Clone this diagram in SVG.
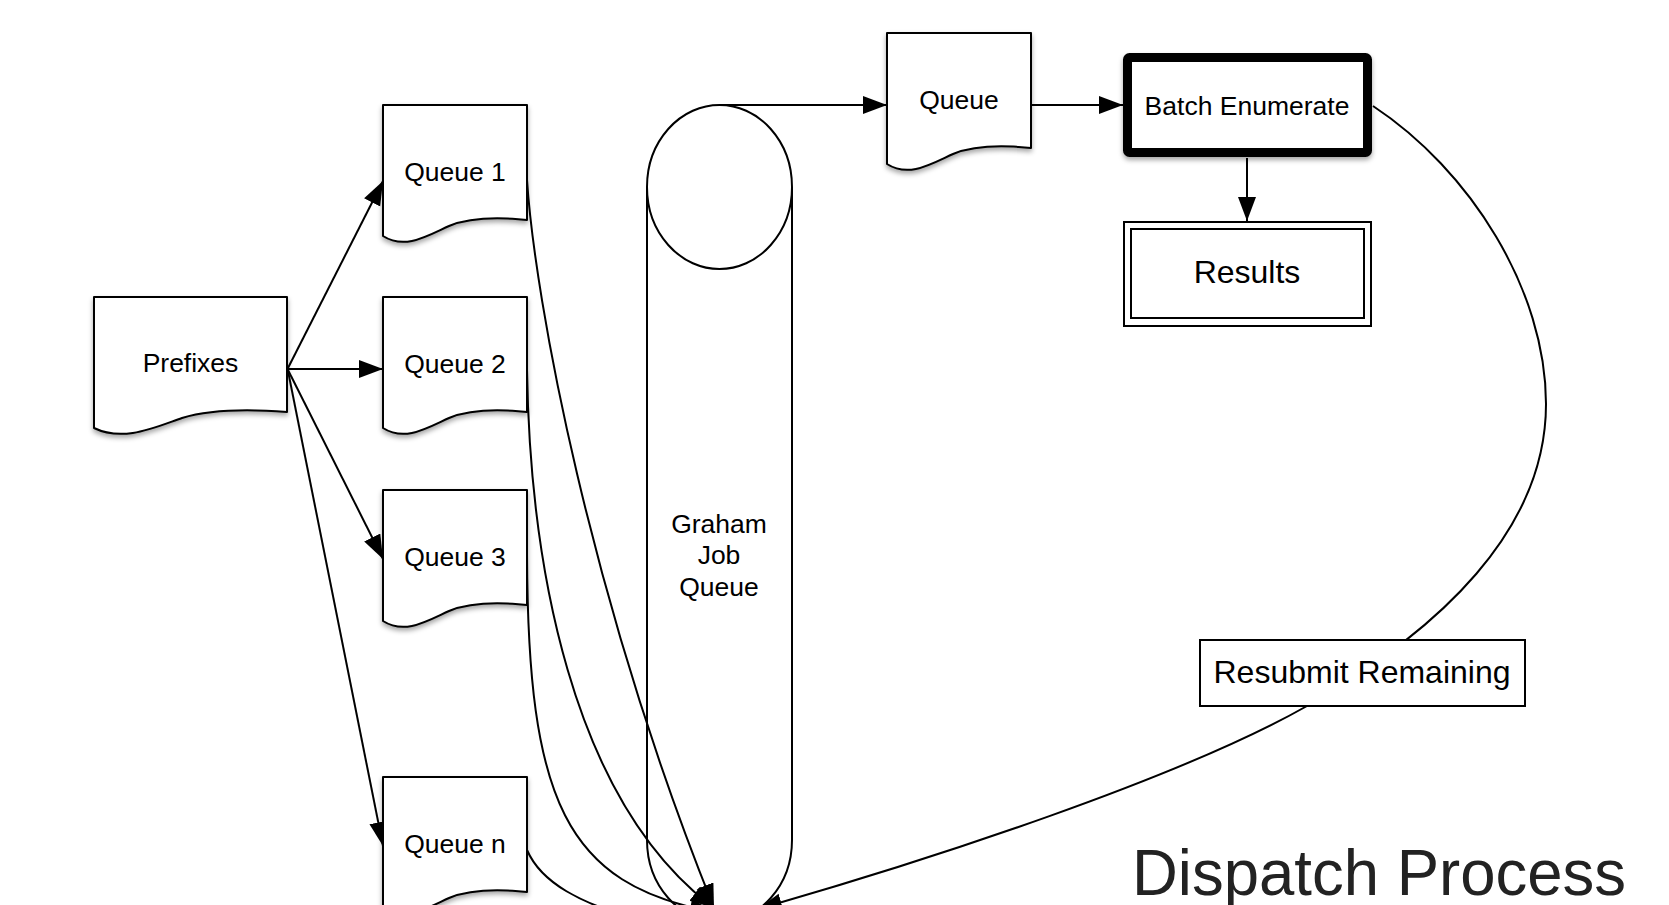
<svg xmlns="http://www.w3.org/2000/svg" width="1669" height="905" viewBox="0 0 1669 905">
<defs>
<style>
.doc{fill:#fff;stroke:#000;stroke-width:2;stroke-linejoin:round;filter:url(#sh)}
.ln{fill:none;stroke:#000;stroke-width:2}
.lbl{font-family:"Liberation Sans",Arial,Helvetica,sans-serif;font-size:26.5px;fill:#000;text-anchor:middle}
.box{fill:#fff;stroke:#000;stroke-width:2}
</style>
<filter id="sh" x="-10%" y="-10%" width="130%" height="130%">
<feDropShadow dx="0" dy="3" stdDeviation="2.5" flood-color="#000" flood-opacity="0.35"/>
</filter>
<marker id="ah" markerUnits="userSpaceOnUse" markerWidth="26" markerHeight="20" refX="24" refY="9" orient="auto">
<path d="M0,0 L24,9 L0,18 Z" fill="#000"/>
</marker>
<path id="d144" d="M0,0 H144 V115 C115,112 88,112 66,121 C44,131 22,145 0,131 Z"/>
</defs>
<rect width="1669" height="905" fill="#fff"/>

<g id="cylinder">
<path d="M647,187 V840 A72.5,82 0 0 0 792,840 V187" fill="#fff" stroke="#000" stroke-width="2"/>
<ellipse cx="719.5" cy="187" rx="72.5" ry="82" fill="#fff" stroke="#000" stroke-width="2"/>
<text class="lbl" x="719" y="533">Graham</text>
<text class="lbl" x="719" y="564">Job</text>
<text class="lbl" x="719" y="596">Queue</text>
</g>

<g id="connectors">
<path class="ln" d="M288,368 L383,181" marker-end="url(#ah)"/>
<path class="ln" d="M288,369 L383,369" marker-end="url(#ah)"/>
<path class="ln" d="M288,370 L383,559" marker-end="url(#ah)"/>
<path class="ln" d="M288,371 L383,846" marker-end="url(#ah)"/>
<path class="ln" d="M527,180 C535,300 590,600 714,908" marker-end="url(#ah)"/>
<path class="ln" d="M527,370 C530,560 570,800 714,908" marker-end="url(#ah)"/>
<path class="ln" d="M527,555 C528,800 565,885 714,912" marker-end="url(#ah)"/>
<path class="ln" d="M527,850 C540,880 575,905 660,925" marker-end="url(#ah)"/>
<path class="ln" d="M720,105 L887,105" marker-end="url(#ah)"/>
<path class="ln" d="M1032,105 L1123,105" marker-end="url(#ah)"/>
<path class="ln" d="M1247,158 L1247,221" marker-end="url(#ah)"/>
<path class="ln" d="M1373,106 C1470,170 1546,290 1546,404 C1546,530 1440,630 1307,706 C1180,778 930,860 758,909" marker-end="url(#ah)"/>
</g>

<g id="prefixes">
<path class="doc" d="M94,297 H287 V412 C248,409 212,409 182,418 C153,428 123,442 94,428 Z"/>
<text class="lbl" x="190.5" y="372">Prefixes</text>
</g>
<g id="queue1">
<use href="#d144" class="doc" x="383" y="105"/>
<text class="lbl" x="455" y="181">Queue 1</text>
</g>
<g id="queue2">
<use href="#d144" class="doc" x="383" y="297"/>
<text class="lbl" x="455" y="373">Queue 2</text>
</g>
<g id="queue3">
<use href="#d144" class="doc" x="383" y="490"/>
<text class="lbl" x="455" y="566">Queue 3</text>
</g>
<g id="queuen">
<use href="#d144" class="doc" x="383" y="777"/>
<text class="lbl" x="455" y="853">Queue n</text>
</g>
<g id="queue">
<use href="#d144" class="doc" x="887" y="33"/>
<text class="lbl" x="959" y="109">Queue</text>
</g>

<g id="batch-enumerate">
<rect x="1127.5" y="57.5" width="240" height="95" rx="2" fill="#fff" stroke="#000" stroke-width="9" stroke-linejoin="round" filter="url(#sh)"/>
<text class="lbl" x="1247" y="115">Batch Enumerate</text>
</g>

<g id="results">
<rect class="box" x="1124" y="222" width="247" height="104"/>
<rect class="box" x="1131" y="229" width="233" height="89"/>
<text class="lbl" x="1247" y="283" style="font-size:32px">Results</text>
</g>

<g id="resubmit-remaining">
<rect class="box" x="1200" y="640" width="325" height="66"/>
<text class="lbl" x="1362" y="683" style="font-size:32px">Resubmit Remaining</text>
</g>

<text x="1132" y="895" font-family="'Liberation Sans',Arial,Helvetica,sans-serif" font-size="65" fill="#222" textLength="494" lengthAdjust="spacingAndGlyphs">Dispatch Process</text>
</svg>
